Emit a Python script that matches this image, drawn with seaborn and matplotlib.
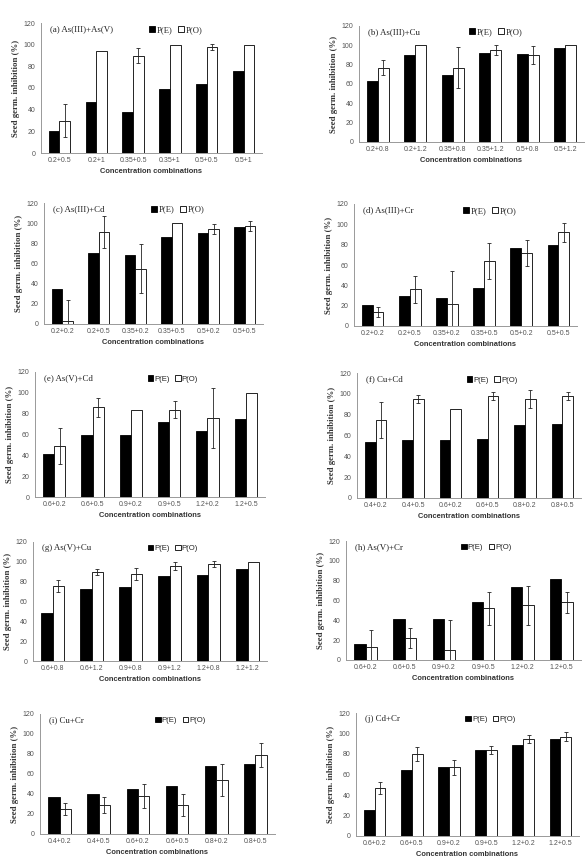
import pandas as pd
import numpy as np
import matplotlib
matplotlib.use('Agg')
import matplotlib.pyplot as plt
import seaborn as sns

sns.set_theme(style="white")
plt.rcParams['font.family'] = ['Liberation Sans', 'DejaVu Sans']

# ---- data ----
titles = ['(a) As(III)+As(V)', '(b) As(III)+Cu', '(c) As(III)+Cd', '(d) As(III)+Cr',
          '(e) As(V)+Cd', '(f) Cu+Cd', '(g) As(V)+Cu', '(h) As(V)+Cr',
          '(i) Cu+Cr', '(j) Cd+Cr']

combos_a = ['0.2+0.5', '0.2+1', '0.35+0.5', '0.35+1', '0.5+0.5', '0.5+1']
combos_b = ['0.2+0.8', '0.2+1.2', '0.35+0.8', '0.35+1.2', '0.5+0.8', '0.5+1.2']
combos_cd = ['0.2+0.2', '0.2+0.5', '0.35+0.2', '0.35+0.5', '0.5+0.2', '0.5+0.5']
combos_ehj = ['0.6+0.2', '0.6+0.5', '0.9+0.2', '0.9+0.5', '1.2+0.2', '1.2+0.5']
combos_fi = ['0.4+0.2', '0.4+0.5', '0.6+0.2', '0.6+0.5', '0.8+0.2', '0.8+0.5']
combos_g = ['0.6+0.8', '0.6+1.2', '0.9+0.8', '0.9+1.2', '1.2+0.8', '1.2+1.2']

pe_a = [20, 47, 38, 59, 64, 76]
po_a = [30, 94, 90, 100, 98, 100]
err_a = [15, 0, 7, 0, 3, 0]

pe_b = [63, 90, 69, 92, 91, 97]
po_b = [77, 100, 77, 95, 90, 100]
err_b = [8, 0, 21, 5, 9, 0]

pe_c = [35, 70, 68, 86, 90, 96]
po_c = [3, 91, 55, 100, 94, 97]
err_c = [21, 16, 24, 0, 5, 5]

pe_d = [21, 30, 28, 37, 77, 80]
po_d = [14, 36, 22, 64, 72, 92]
err_d = [5, 13, 32, 18, 13, 9]

pe_e = [41, 60, 60, 72, 63, 75]
po_e = [49, 86, 84, 84, 76, 100]
err_e = [17, 9, 0, 8, 29, 0]

pe_f = [54, 56, 56, 57, 70, 71]
po_f = [75, 95, 85, 98, 95, 98]
err_f = [17, 4, 0, 4, 9, 4]

pe_g = [48, 73, 75, 86, 87, 93]
po_g = [76, 90, 88, 96, 98, 100]
err_g = [6, 3, 6, 4, 3, 0]

pe_h = [16, 41, 41, 58, 74, 82]
po_h = [13, 22, 10, 52, 55, 58]
err_h = [17, 10, 30, 17, 20, 11]

pe_i = [37, 40, 45, 48, 68, 70]
po_i = [25, 29, 38, 29, 54, 79]
err_i = [6, 8, 12, 11, 16, 12]

pe_j = [25, 64, 67, 84, 89, 95]
po_j = [47, 80, 67, 84, 95, 97]
err_j = [6, 7, 7, 4, 4, 4]

yticks = [0, 20, 40, 60, 80, 100, 120]

panels = [
    (combos_a, pe_a, po_a, err_a), (combos_b, pe_b, po_b, err_b),
    (combos_cd, pe_c, po_c, err_c), (combos_cd, pe_d, po_d, err_d),
    (combos_ehj, pe_e, po_e, err_e), (combos_fi, pe_f, po_f, err_f),
    (combos_g, pe_g, po_g, err_g), (combos_ehj, pe_h, po_h, err_h),
    (combos_fi, pe_i, po_i, err_i), (combos_ehj, pe_j, po_j, err_j),
]

# axes boxes in pixels: left, top(=120), right, bottom(=0)
boxes = [
    (41, 23, 262, 153), (359, 26, 584, 142),
    (44, 203, 263, 324), (354, 204, 577, 326),
    (35, 372, 265, 497), (357, 373, 581, 498),
    (33, 542, 267, 661), (346, 541, 581, 660),
    (40, 714, 275, 834), (356, 713, 579, 836),
]

W, H = 588, 861
fig = plt.figure(figsize=(W / 100, H / 100), dpi=100)
fig.patch.set_facecolor('white')

serif = ['Liberation Serif', 'DejaVu Serif']
pal = {'P(E)': 'black', 'P(O)': 'white'}

for k, ((combos, pe, po, err), (l, t, r, b)) in enumerate(zip(panels, boxes)):
    ax = fig.add_axes([l / W, 1 - b / H, (r - l) / W, (b - t) / H])
    df = pd.DataFrame({
        'combo': combos * 2,
        'series': ['P(E)'] * 6 + ['P(O)'] * 6,
        'value': pe + po,
    })
    sns.barplot(data=df, x='combo', y='value', hue='series', palette=pal,
                width=0.58, edgecolor='black', linewidth=0.6, ax=ax)

    # error bars on observed values only
    bars = ax.containers[1]
    xs = np.array([p.get_x() + p.get_width() / 2 for p in bars])
    ys = np.array([p.get_height() for p in bars])
    e = np.array(err)
    m = e > 0
    ax.errorbar(xs[m], ys[m], yerr=e[m], fmt='none', ecolor='#222222',
                elinewidth=0.6, capsize=1.6, capthick=0.6)

    ax.set_ylim(0, 120)
    ax.set_xlim(-0.5, 5.5)
    ax.set_yticks(yticks)
    ax.tick_params(axis='y', labelsize=5, colors='#555555', length=2, width=0.5, pad=2)
    ax.tick_params(axis='x', labelsize=5, colors='#555555', length=0, pad=3)
    for s in ['top', 'right']:
        ax.spines[s].set_visible(False)
    for s in ['left', 'bottom']:
        ax.spines[s].set_color('#999999')
        ax.spines[s].set_linewidth(0.7)

    ax.set_ylabel('Seed germ. inhibition (%)', fontsize=6.3, fontweight='bold',
                  family=serif, color='#333333', labelpad=3)
    ax.set_xlabel('Concentration combinations', fontsize=5.4, fontweight='bold',
                  color='#333333', labelpad=3)

    ax.text(0.04, 0.95, titles[k], transform=ax.transAxes, fontsize=6.4,
            family=serif, va='center', ha='left', color='#222222')

    legprop = {'family': serif if k < 4 else ['Liberation Sans'], 'size': 6.2 if k < 4 else 5.6}
    ax.legend(ncol=2, loc='center left', bbox_to_anchor=(0.49, 0.945),
              frameon=False, handlelength=0.7, handleheight=0.7, handletextpad=0.15,
              columnspacing=0.7, borderaxespad=0, borderpad=0, prop=legprop,
              labelcolor='#222222')

plt.savefig('out.png', dpi=100, facecolor='white')
